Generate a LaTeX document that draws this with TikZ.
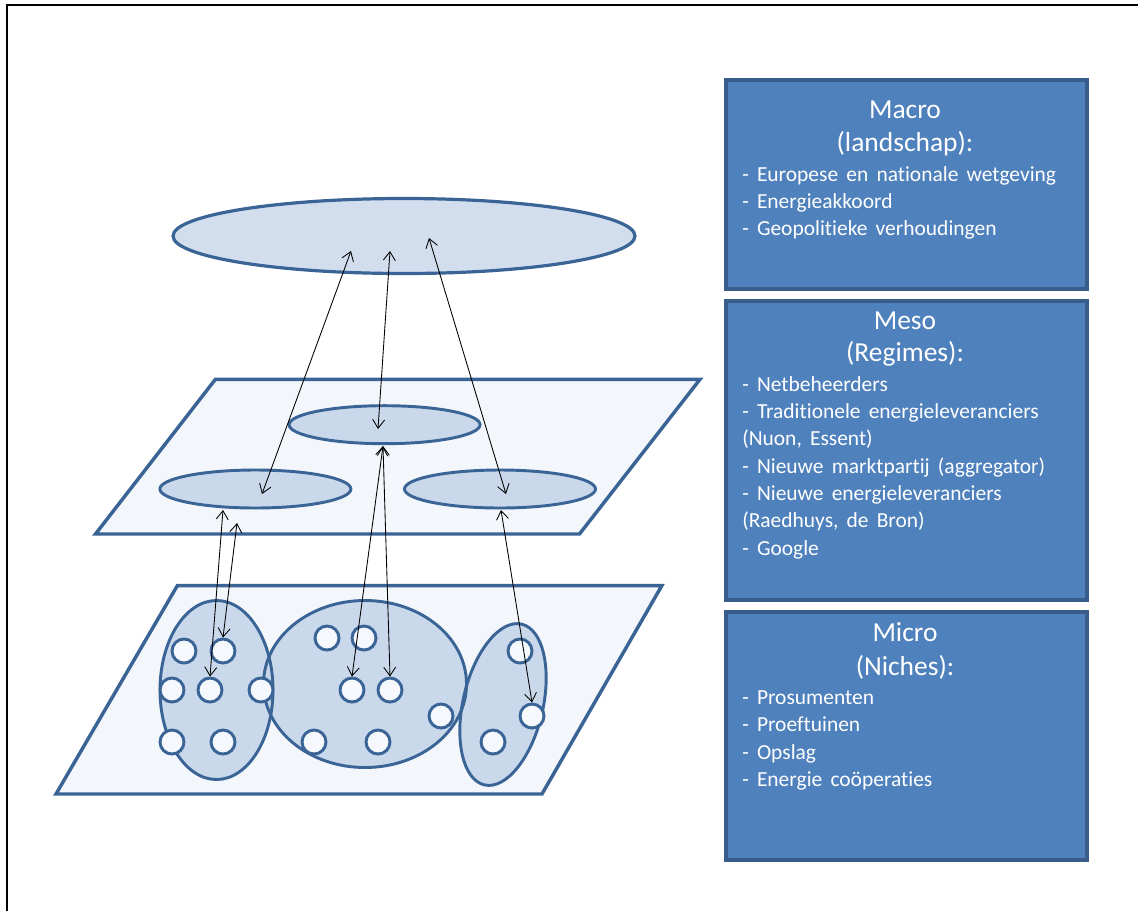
\documentclass[tikz,border=0pt]{standalone}
\usepackage{fontspec}
\setmainfont{Carlito}[RawFeature={-liga}]
\usetikzlibrary{arrows.meta,shapes.geometric}

\definecolor{boxfill}{HTML}{4F81BD}
\definecolor{boxline}{HTML}{385D8A}
\definecolor{layerline}{HTML}{3B6496}
\definecolor{planefill}{HTML}{F3F7FB}
\definecolor{discfill}{HTML}{C9D9EB}
\definecolor{topfill}{HTML}{D2DEEE}
\definecolor{dotfill}{HTML}{F5F8FC}

% list text inside the level boxes: slightly wider word spaces
\newcommand{\listfont}{\fontsize{16.1}{18}\selectfont\spaceskip=0.38em plus 0.1em\relax}

\begin{document}
\begin{tikzpicture}[x=0.75pt,y=-0.75pt,
  levelbox/.style={draw=boxline,fill=boxfill,line width=2.4pt},
  plane/.style={draw=layerline,fill=planefill,line width=2.6pt,line join=miter},
  disc/.style={ellipse,draw=layerline,fill=discfill,line width=2.2pt,inner sep=0pt},
  discfillonly/.style={ellipse,fill=discfill,inner sep=0pt},
  discrim/.style={ellipse,draw=layerline,line width=2.2pt,inner sep=0pt},
  dot/.style={circle,draw=layerline,fill=dotfill,line width=2.2pt,minimum size=18pt,inner sep=0pt},
  link/.style={{Straight Barb[length=6.5pt,width=9pt]}-{Straight Barb[length=6.5pt,width=9pt]},line width=0.65pt,black},
  boxtitle/.style={text=white,font=\fontsize{20.6}{24}\selectfont,anchor=base,inner sep=0pt},
  boxitem/.style={text=white,font=\listfont,anchor=base west,inner sep=0pt}]

% page and frame
\useasboundingbox (0,0) rectangle (1138,911);
\draw[line width=1.5pt] (7,911) -- (7,5) -- (1138,5);

% ---------- level boxes ----------
\draw[levelbox] (726,80) rectangle (1087,289) coordinate (macrobox);
\draw[levelbox] (726,301) rectangle (1087,600) coordinate (mesobox);
\draw[levelbox] (726,612) rectangle (1087,860) coordinate (microbox);

\foreach \t [count=\i] in {Macro,(landschap):}
  \node[boxtitle] (mact\i) at (905,{118.3+33.4*(\i-1)}) {\t};
\foreach \t [count=\i] in {- Europese en nationale wetgeving,- Energieakkoord,- Geopolitieke verhoudingen}
  \node[boxitem] (maci\i) at (742,{181+27*(\i-1)}) {\t};

\foreach \t [count=\i] in {Meso,(Regimes):}
  \node[boxtitle] (mest\i) at (905,{329+32.7*(\i-1)}) {\t};
\foreach \t [count=\i] in {- Netbeheerders,- Traditionele energieleveranciers,{(Nuon, Essent)},- Nieuwe marktpartij (aggregator),- Nieuwe energieleveranciers,{(Raedhuys, de Bron)},- Google}
  \node[boxitem] (mesi\i) at (742,{391+27.35*(\i-1)}) {\t};

\foreach \t [count=\i] in {Micro,(Niches):}
  \node[boxtitle] (mict\i) at (905,{641.7+33.3*(\i-1)}) {\t};
\foreach \t [count=\i] in {- Prosumenten,- Proeftuinen,- Opslag,- Energie coöperaties}
  \node[boxitem] (mici\i) at (742,{704.3+27.5*(\i-1)}) {\t};

% ---------- macro level ----------
\node[disc,fill=topfill,line width=2.4pt,minimum width=346.5pt,minimum height=56.25pt] (land) at (404,236) {};

% ---------- meso level ----------
\draw[plane] (215.4,379.3) -- (700,379.3) -- (579.5,534) -- (95.5,534) -- cycle;
\node[disc,minimum width=143.25pt,minimum height=28.5pt] (regc) at (384.6,424.7) {};
\node[disc,minimum width=143.25pt,minimum height=28.5pt] (regl) at (255.4,489) {};
\node[disc,minimum width=143.25pt,minimum height=28.5pt] (regr) at (500,489) {};

% ---------- micro level ----------
\draw[plane] (177.3,585.7) -- (661.8,585.7) -- (542,794) -- (56,794) -- cycle;
% niche clusters: fills first, rims on top so every rim stays visible
\node[discfillonly,minimum width=84.75pt,minimum height=134.25pt] (nichl) at (216.5,690) {};
\node[discfillonly,minimum width=152.25pt,minimum height=125.25pt] (nichm) at (365,684) {};
\node[discfillonly,minimum width=60pt,minimum height=123.75pt,rotate=-13] (nichr) at (503,704.5) {};
\node[discrim,minimum width=84.75pt,minimum height=134.25pt] (nichlrim) at (nichl) {};
\node[discrim,minimum width=152.25pt,minimum height=125.25pt] (nichmrim) at (nichm) {};
\node[discrim,minimum width=60pt,minimum height=123.75pt,rotate=-13] (nichrrim) at (nichr) {};

% niche actors
\foreach \p [count=\i] in {(184,651),(223,651),(172,690),(210,690),(261,690),(172,742),(223,742)}
  \node[dot] (l\i) at \p {};
\foreach \p [count=\i] in {(327,638),(364,638),(352,690),(390,690),(441,716),(314,742),(378,742)}
  \node[dot] (m\i) at \p {};
\foreach \p [count=\i] in {(520,651),(532,716),(493,742)}
  \node[dot] (r\i) at \p {};

% ---------- interactions between levels ----------
\coordinate (landa) at (351,251);
\coordinate (landb) at (390,251);
\coordinate (landc) at (429,238);
\coordinate (reglin) at (262,494);
\coordinate (regcin) at (378,429);
\coordinate (regrin) at (506,494);
\coordinate (reglfoot) at (223,510);
\coordinate (regloff) at (237,523);
\coordinate (regcfoot) at (383,446);
\coordinate (regrfoot) at (501,510);

\draw[link] (reglin) -- (landa);
\draw[link] (regcin) -- (landb);
\draw[link] (regrin) -- (landc);
\draw[link] (regcfoot) -- (m3.north);
\draw[link] (regcfoot) -- (m4.north);
\draw[link] (reglfoot) -- (l4.north);
\draw[link] (regloff) -- (l2.north);
\draw[link] (regrfoot) -- (r2.north);
\end{tikzpicture}
\end{document}
